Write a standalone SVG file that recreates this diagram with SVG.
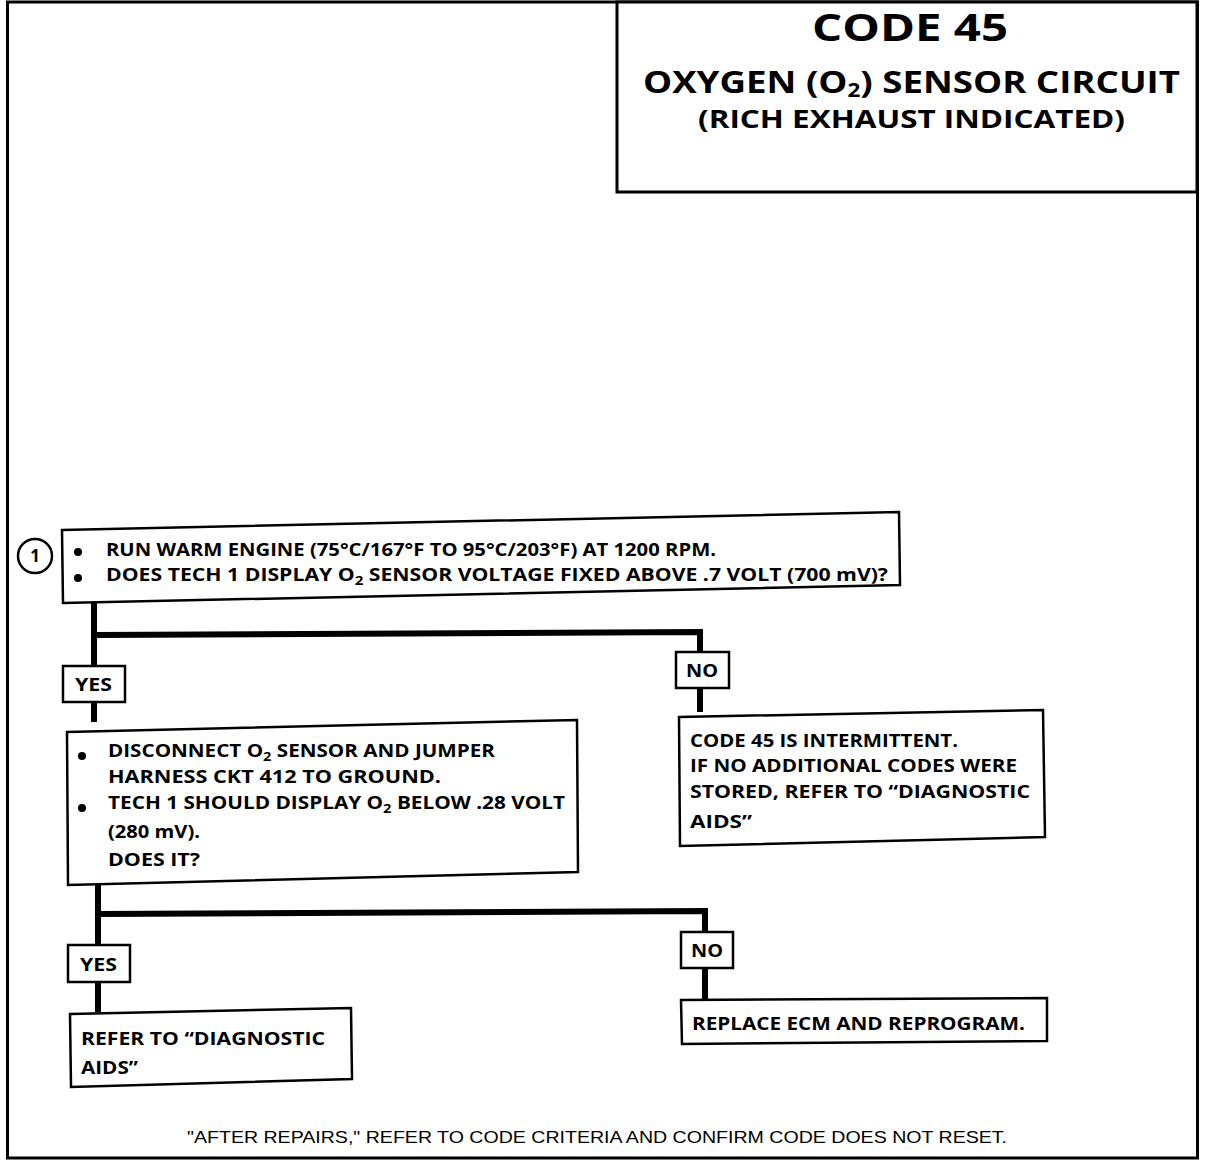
<svg xmlns="http://www.w3.org/2000/svg" width="1216" height="1160" viewBox="0 0 1216 1160">
<style>
.box{fill:#fff;stroke:#000;stroke-width:2.5}
.t{font-family:"Open Sans","Noto Sans","Liberation Sans",sans-serif;font-weight:bold;font-size:17px;fill:#000}
.h1{font-size:38px}
.h2{font-size:31px}
.h3{font-size:25px}
.conn{fill:none;stroke:#000;stroke-width:6;stroke-linejoin:miter}
.sub{font-size:12px}
.hsub{font-size:19px}
</style>
<rect x="0" y="0" width="1216" height="1160" fill="#fff"/>
<g id="frame">
<rect x="7.5" y="2" width="1190" height="1156" fill="none" stroke="#000" stroke-width="3"/>
</g>
<g id="connectors">
<polyline class="conn" points="94,603 94,722"/>
<polyline class="conn" points="94,635 700,632 700,712"/>
<polyline class="conn" points="98,885 98,1012"/>
<polyline class="conn" points="98,914 705,911 705,1000"/>
</g>
<g id="title">
<rect x="617" y="2" width="580" height="190" fill="#fff" stroke="#000" stroke-width="3"/>
<text class="t h1" x="910" y="41" text-anchor="middle" textLength="196" lengthAdjust="spacingAndGlyphs">CODE 45</text>
<text class="t h2" x="643" y="93" textLength="537" lengthAdjust="spacingAndGlyphs">OXYGEN (O<tspan class="hsub" dy="4">2</tspan><tspan dy="-4">) SENSOR CIRCUIT</tspan></text>
<text class="t h3" x="698" y="128" textLength="427" lengthAdjust="spacingAndGlyphs">(RICH EXHAUST INDICATED)</text>
</g>
<g id="step1">
<circle cx="35" cy="556" r="17" fill="#fff" stroke="#000" stroke-width="2.5"/>
<text class="t" x="35" y="562" text-anchor="middle">1</text>
<polygon class="box" points="62,530 899,512 900,585 63,603"/>
<circle cx="78" cy="552" r="4"/>
<circle cx="78" cy="578" r="4"/>
<text class="t" x="106" y="556" textLength="610" lengthAdjust="spacingAndGlyphs">RUN WARM ENGINE  (75°C/167°F TO 95°C/203°F) AT 1200 RPM.</text>
<text class="t" x="106" y="581" textLength="782" lengthAdjust="spacingAndGlyphs">DOES TECH 1 DISPLAY O<tspan class="sub" dy="4">2</tspan><tspan dy="-4"> SENSOR  VOLTAGE  FIXED ABOVE .7 VOLT  (700 mV)?</tspan></text>
</g>
<g id="yes1">
<rect class="box" x="63" y="666" width="62" height="36"/>
<text class="t" x="75" y="691" textLength="37" lengthAdjust="spacingAndGlyphs">YES</text>
</g>
<g id="no1">
<rect class="box" x="676" y="652" width="53" height="36"/>
<text class="t" x="686" y="677" textLength="32" lengthAdjust="spacingAndGlyphs">NO</text>
</g>
<g id="step2">
<polygon class="box" points="67,732 577,720 578,872 68,885"/>
<circle cx="82" cy="756" r="4"/>
<circle cx="82" cy="808" r="4"/>
<text class="t" x="108" y="757" textLength="387" lengthAdjust="spacingAndGlyphs">DISCONNECT O<tspan class="sub" dy="4">2</tspan><tspan dy="-4"> SENSOR AND JUMPER</tspan></text>
<text class="t" x="108" y="783" textLength="333" lengthAdjust="spacingAndGlyphs">HARNESS CKT 412 TO GROUND.</text>
<text class="t" x="108" y="809" textLength="457" lengthAdjust="spacingAndGlyphs">TECH 1 SHOULD DISPLAY O<tspan class="sub" dy="4">2</tspan><tspan dy="-4"> BELOW .28 VOLT</tspan></text>
<text class="t" x="108" y="838" textLength="92" lengthAdjust="spacingAndGlyphs">(280 mV).</text>
<text class="t" x="108" y="866" textLength="92" lengthAdjust="spacingAndGlyphs">DOES IT?</text>
</g>
<g id="intermittent">
<polygon class="box" points="679,717 1043,710 1045,837 680,846"/>
<text class="t" x="690" y="747" textLength="268" lengthAdjust="spacingAndGlyphs">CODE 45 IS INTERMITTENT.</text>
<text class="t" x="690" y="772" textLength="327" lengthAdjust="spacingAndGlyphs">IF NO ADDITIONAL CODES WERE</text>
<text class="t" x="690" y="798" textLength="340" lengthAdjust="spacingAndGlyphs">STORED, REFER TO  “DIAGNOSTIC</text>
<text class="t" x="690" y="828" textLength="62" lengthAdjust="spacingAndGlyphs">AIDS”</text>
</g>
<g id="yes2">
<rect class="box" x="68" y="945" width="62" height="37"/>
<text class="t" x="80" y="971" textLength="37" lengthAdjust="spacingAndGlyphs">YES</text>
</g>
<g id="no2">
<rect class="box" x="681" y="932" width="52" height="36"/>
<text class="t" x="691" y="957" textLength="32" lengthAdjust="spacingAndGlyphs">NO</text>
</g>
<g id="refer">
<polygon class="box" points="70,1014 351,1008 352,1079 71,1087"/>
<text class="t" x="81" y="1045" textLength="244" lengthAdjust="spacingAndGlyphs">REFER TO  “DIAGNOSTIC</text>
<text class="t" x="81" y="1074" textLength="57" lengthAdjust="spacingAndGlyphs">AIDS”</text>
</g>
<g id="replace">
<polygon class="box" points="681,1000 1047,998 1047,1041 682,1044"/>
<text class="t" x="692" y="1030" textLength="333" lengthAdjust="spacingAndGlyphs">REPLACE ECM AND REPROGRAM.</text>
</g>
<g id="footer">
<text x="597" y="1143" text-anchor="middle" font-family="'Liberation Sans Narrow','Liberation Sans',Arial,sans-serif" font-size="17" textLength="820" lengthAdjust="spacingAndGlyphs">"AFTER REPAIRS," REFER TO CODE CRITERIA AND CONFIRM CODE DOES NOT RESET.</text>
</g>
</svg>
